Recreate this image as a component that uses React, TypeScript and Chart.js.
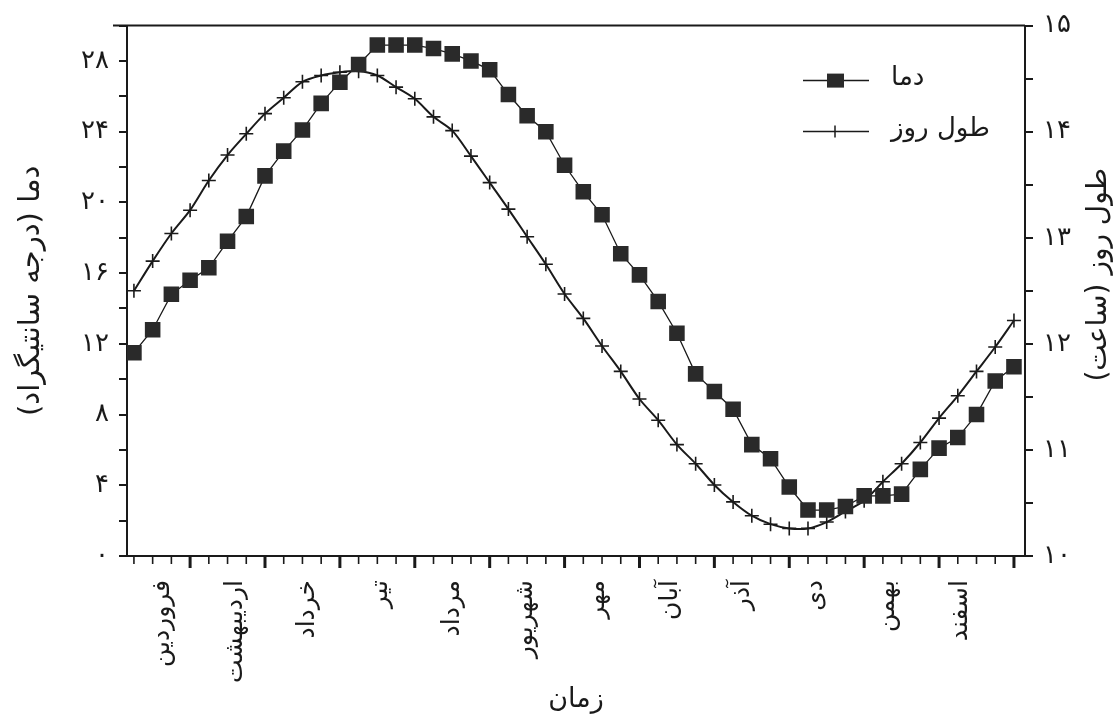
import React, { useEffect, useRef } from 'react';
import { Chart, registerables } from 'chart.js';

Chart.register(...registerables);

// ---- data ----
const months = ['فروردین', 'اردیبهشت', 'خرداد', 'تیر', 'مرداد', 'شهریور', 'مهر', 'آبان', 'آذر', 'دی', 'بهمن', 'اسفند'];
const weeks = Array.from({ length: 48 }, (_, i) => i);
const temperature = [
  11.5, 12.8, 14.8, 15.6, 16.3, 17.8, 19.2, 21.5, 22.9, 24.1,
  25.6, 26.8, 27.8, 28.9, 28.9, 28.9, 28.7, 28.4, 28.0, 27.5,
  26.1, 24.9, 24.0, 22.1, 20.6, 19.3, 17.1, 15.9, 14.4, 12.6,
  10.3, 9.3, 8.3, 6.3, 5.5, 3.9, 2.6, 2.6, 2.8, 3.4,
  3.4, 3.5, 4.9, 6.1, 6.7, 8.0, 9.9, 10.7,
];
const dayLength = [
  12.50, 12.78, 13.04, 13.26, 13.54, 13.78, 13.98, 14.17, 14.32, 14.47,
  14.53, 14.56, 14.57, 14.53, 14.42, 14.31, 14.14, 14.01, 13.77, 13.52,
  13.27, 13.01, 12.75, 12.47, 12.24, 11.98, 11.74, 11.48, 11.28, 11.05,
  10.87, 10.67, 10.51, 10.38, 10.30, 10.26, 10.26, 10.32, 10.42, 10.52,
  10.70, 10.87, 11.07, 11.30, 11.51, 11.74, 11.97, 12.22,
];
const tempTickValues = [0, 4, 8, 12, 16, 20, 24, 28];
const dayTickValues = [10, 11, 12, 13, 14, 15];
const tempLabel = 'دما';
const dayLabel = 'طول روز';
const xTitle = 'زمان';
const leftTitle = 'دما (درجه سانتیگراد)';
const rightTitle = 'طول روز (ساعت)';

const FA = '۰۱۲۳۴۵۶۷۸۹';
const fa = (n: number) => String(n).replace(/\d/g, (d) => FA[Number(d)]);

const FONT = "'DejaVu Sans', sans-serif";
const INK = '#1a1a1a';

const decorPlugin = {
  id: 'decor',
  afterDraw(chart: any) {
    const { ctx, chartArea, scales } = chart;
    const xs = scales.x;
    ctx.save();
    ctx.strokeStyle = INK;
    // top frame line
    ctx.lineWidth = 2;
    ctx.beginPath();
    ctx.moveTo(chartArea.left - 14, chartArea.top);
    ctx.lineTo(chartArea.right, chartArea.top);
    ctx.stroke();
    // x tick marks
    weeks.forEach((w) => {
      const px = xs.getPixelForValue(w);
      const major = w % 4 === 3;
      ctx.lineWidth = major ? 3 : 1.6;
      ctx.beginPath();
      ctx.moveTo(px, chartArea.bottom);
      ctx.lineTo(px, chartArea.bottom + (major ? 12 : 8));
      ctx.stroke();
    });
    // right title (rotated like the left one)
    ctx.fillStyle = INK;
    ctx.font = `28px ${FONT}`;
    ctx.textAlign = 'center';
    ctx.textBaseline = 'middle';
    ctx.translate(1099, (chartArea.top + chartArea.bottom) / 2 - 16);
    ctx.rotate(-Math.PI / 2);
    ctx.fillText(rightTitle, 0, 0);
    ctx.restore();

    // legend
    ctx.save();
    const lx = chartArea.right - 222;
    const rows = [
      { y: chartArea.top + 55, label: tempLabel, style: 'rect' },
      { y: chartArea.top + 106, label: dayLabel, style: 'cross' },
    ];
    rows.forEach((r) => {
      ctx.strokeStyle = INK;
      ctx.lineWidth = 1.5;
      ctx.beginPath();
      ctx.moveTo(lx, r.y);
      ctx.lineTo(lx + 66, r.y);
      ctx.stroke();
      if (r.style === 'rect') {
        ctx.fillStyle = '#2a2a2a';
        ctx.fillRect(lx + 24, r.y - 7, 17, 14);
      } else {
        ctx.beginPath();
        ctx.moveTo(lx + 32, r.y - 6);
        ctx.lineTo(lx + 32, r.y + 6);
        ctx.stroke();
      }
      ctx.fillStyle = INK;
      ctx.font = `26px ${FONT}`;
      ctx.textAlign = 'left';
      ctx.textBaseline = 'middle';
      ctx.fillText(r.label, lx + 88, r.y - 2);
    });
    ctx.restore();
  },
};

export default function App() {
  const ref = useRef<HTMLCanvasElement>(null);
  useEffect(() => {
    const canvas = ref.current;
    if (!canvas) return;
    const chart = new Chart(canvas, {
      type: 'line',
      data: {
        datasets: [
          {
            label: tempLabel,
            data: weeks.map((w, i) => ({ x: w, y: temperature[i] })),
            yAxisID: 'y',
            borderColor: INK,
            borderWidth: 1.3,
            pointStyle: 'rect',
            pointRadius: 11,
            pointBackgroundColor: '#2a2a2a',
            pointBorderColor: '#2a2a2a',
            pointBorderWidth: 0,
            tension: 0,
          },
          {
            label: dayLabel,
            data: weeks.map((w, i) => ({ x: w, y: dayLength[i] })),
            yAxisID: 'y1',
            borderColor: INK,
            borderWidth: 2,
            pointStyle: 'cross',
            pointRadius: 7,
            pointBorderColor: INK,
            pointBorderWidth: 1.6,
            tension: 0.3,
          },
        ],
      },
      options: {
        responsive: false,
        animation: false,
        layout: { padding: { top: 22, left: 0, right: 0, bottom: 0 } },
        plugins: { legend: { display: false }, tooltip: { enabled: false } },
        scales: {
          x: {
            type: 'linear',
            min: -0.37,
            max: 47.59,
            afterBuildTicks: (s: any) => {
              s.ticks = months.map((_, k) => ({ value: 1.55 + k * 3.87 }));
            },
            afterFit: (s: any) => {
              s.height = 162;
            },
            ticks: {
              autoSkip: false,
              minRotation: 90,
              maxRotation: 90,
              padding: 24,
              color: INK,
              font: { family: FONT, size: 25 },
              callback: (_v: any, i: number) => months[i],
            },
            grid: { display: true, drawOnChartArea: false, drawTicks: false },
            border: { display: true, color: INK, width: 2 },
            title: {
              display: true,
              text: xTitle,
              color: INK,
              font: { family: FONT, size: 27 },
              padding: { top: 0, bottom: 2 },
            },
          },
          y: {
            position: 'left',
            min: 0,
            max: 30,
            afterFit: (s: any) => {
              s.width = 127;
            },
            ticks: {
              stepSize: 2,
              autoSkip: false,
              padding: 10,
              color: INK,
              font: { family: FONT, size: 26 },
              callback: (v: any) => (tempTickValues.includes(v) ? fa(v) : ''),
            },
            grid: { drawOnChartArea: false, drawTicks: true, tickLength: 8, color: INK, lineWidth: 2 },
            border: { display: true, color: INK, width: 2 },
            title: {
              display: true,
              text: leftTitle,
              color: INK,
              font: { family: FONT, size: 29 },
              padding: { top: 14, bottom: 0 },
            },
          },
          y1: {
            position: 'right',
            min: 10,
            max: 15,
            afterFit: (s: any) => {
              s.width = 95;
            },
            ticks: {
              stepSize: 0.5,
              autoSkip: false,
              padding: 10,
              color: INK,
              font: { family: FONT, size: 26 },
              callback: (v: any) => (dayTickValues.includes(v) ? fa(v) : ''),
            },
            grid: { drawOnChartArea: false, drawTicks: true, tickLength: 8, color: INK, lineWidth: 2 },
            border: { display: true, color: INK, width: 2 },
          },
        },
      },
      plugins: [decorPlugin],
    } as any);
    return () => chart.destroy();
  }, []);
  return (
    <div style={{ position: 'absolute', left: 0, top: 0, width: 1120, height: 718, background: '#fff' }}>
      <canvas ref={ref} width={1120} height={718} style={{ display: 'block' }} />
    </div>
  );
}
